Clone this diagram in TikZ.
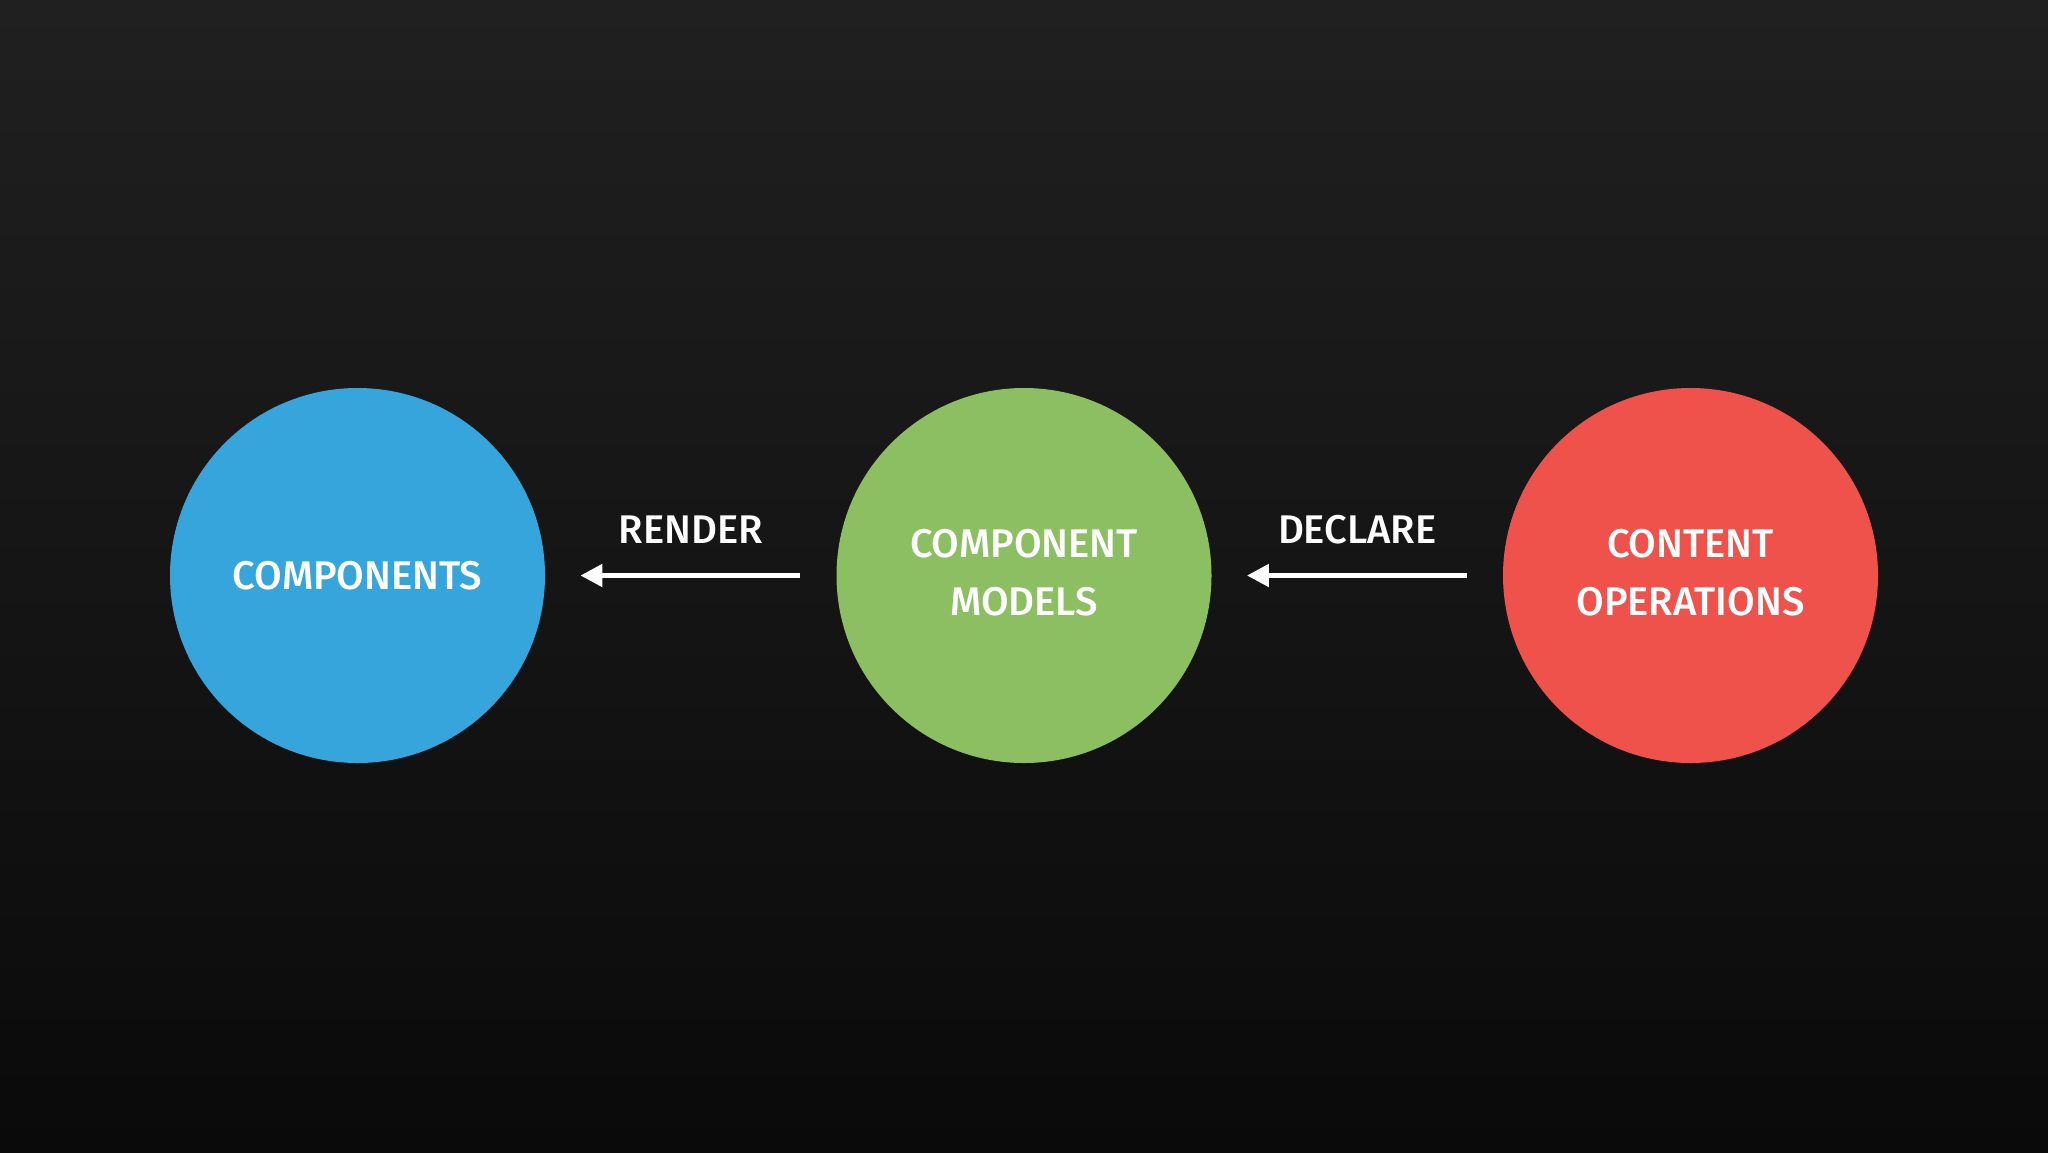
\documentclass[tikz,border=0pt]{standalone}
\usepackage{fontspec}
\setmainfont{Fira Sans Medium}
\usetikzlibrary{arrows.meta}
\definecolor{bgtop}{HTML}{202020}
\definecolor{bgbot}{HTML}{0A0A0A}
\definecolor{cblue}{HTML}{35A5DC}
\definecolor{cgreen}{HTML}{8CBE62}
\definecolor{cred}{HTML}{EE524A}
\begin{document}
\begin{tikzpicture}[x=0.5pt,y=-0.5pt,
  ball/.style={circle,minimum size=187.5pt,inner sep=0pt,text=white,align=center,
    font=\fontsize{20}{29}\selectfont},
  txt/.style={text=white,align=center,inner sep=0pt,yshift=1.5pt,
    font=\fontsize{20}{29}\selectfont},
  arr/.style={draw=white,line width=2.5pt,-{Triangle[length=11pt,width=11pt]},
    shorten >=17.5pt,shorten <=18pt},
  lbl/.style={text=white,font=\fontsize{20}{29}\selectfont,midway,anchor=base,yshift=16pt,inner sep=0pt}]
\shade[top color=bgtop,bottom color=bgbot] (0,0) rectangle (2048,1152);
\useasboundingbox (0,0) rectangle (2048,1152);
\node[ball,fill=cblue] (comp) at (357.5,575.5) {COMPONENTS};
\node[ball,fill=cgreen,label={[txt]center:{COMPONENT\\MODELS}}] (models) at (1024,575.5) {};
\node[ball,fill=cred,label={[txt]center:{CONTENT\\OPERATIONS}}] (ops) at (1690.5,575.5) {};
\draw[arr] (models) -- (comp) node[lbl] {RENDER};
\draw[arr] (ops) -- (models) node[lbl] {DECLARE};
\end{tikzpicture}
\end{document}
